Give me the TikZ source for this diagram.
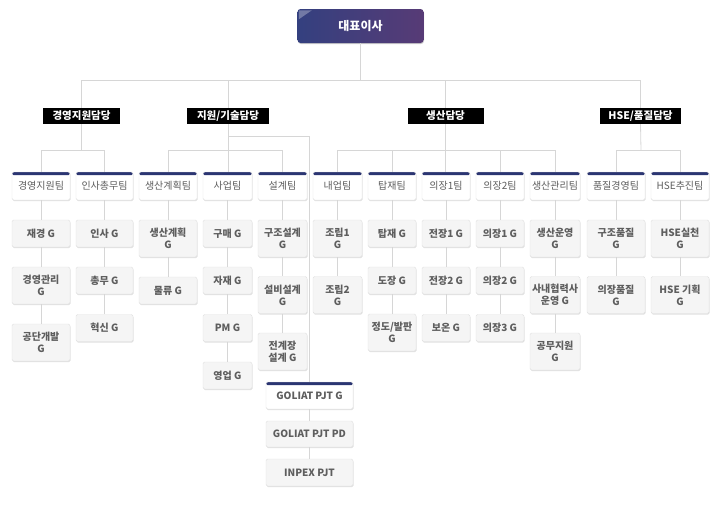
\documentclass[tikz,border=0pt]{standalone}
\usepackage{fontspec}
\setmainfont{Noto Sans CJK KR}
\usetikzlibrary{shadows}
\definecolor{navy}{HTML}{2B3572}
\definecolor{linegray}{HTML}{D6D6D6}
\definecolor{boxborder}{HTML}{E0E0E0}
\definecolor{subfill}{HTML}{F5F5F5}
\definecolor{textgray}{HTML}{5E5E5E}
\definecolor{ceoleft}{HTML}{34407F}
\definecolor{ceomid}{HTML}{6A8CC2}
\definecolor{ceoright}{HTML}{573B76}
\tikzset{
  conn/.style={draw=linegray, line width=0.8pt},
  softshadow/.style={drop shadow={shadow xshift=0.5pt, shadow yshift=-1pt, fill=black, opacity=0.12}},
  teambox/.style={draw=boxborder, fill=white, rounded corners=1.5pt, minimum height=28pt, inner sep=0pt,
    font=\fontsize{10}{12}\selectfont, text=textgray, softshadow,
    path picture={\fill[navy] (path picture bounding box.north west) rectangle ([yshift=-3pt]path picture bounding box.north east);}},
  subbox/.style={draw=boxborder, fill=subfill, rounded corners=1.5pt, inner sep=0pt, align=center,
    font=\bfseries\fontsize{10}{12}\selectfont, text=textgray, softshadow},
  subone/.style={subbox, minimum height=27pt},
  subtwo/.style={subbox, minimum height=37pt},
  grouplabel/.style={fill=black, text=white, font=\bfseries\fontsize{10.5}{12}\selectfont, minimum height=16pt, inner sep=0pt},
  ceobox/.style={rounded corners=3pt, left color=ceoleft, middle color=ceomid, right color=ceoright,
    text=white, font=\bfseries\fontsize{12}{14}\selectfont, minimum width=126pt, minimum height=34pt, inner sep=0pt,
    drop shadow={shadow xshift=0.5pt, shadow yshift=-1pt, fill=black, opacity=0.2}},
  wA/.style={minimum width=58pt},
  wB/.style={minimum width=57pt},
  wC/.style={minimum width=49pt},
  wD/.style={minimum width=48pt},
  wE/.style={minimum width=50pt},
  wF/.style={minimum width=87pt},
}
\begin{document}
\begin{tikzpicture}[x=1pt, y=-1pt]
\useasboundingbox (0,0) rectangle (718,507);
% CEO
\node[ceobox] (ceo) at (360.5,26) {대표이사};
\fill[white, opacity=0.3] ([xshift=1.5pt,yshift=-1.5pt]ceo.north west) -- ++(13pt,0) -- ++(-13pt,-9pt) -- cycle;
% group labels
\node[grouplabel, minimum width=77pt] (g1) at (81.5,116) {경영지원담당};
\node[grouplabel, minimum width=82pt] (g2) at (228,116) {지원/기술담당};
\node[grouplabel, minimum width=76pt] (g3) at (445.5,116) {생산담당};
\node[grouplabel, minimum width=81pt] (g4) at (640.5,116) {HSE/품질담당};
% teams
\node[teambox, wA] (t1) at (41,186) {경영지원팀};
\node[teambox, wB] (t2) at (104.5,186) {인사총무팀};
\node[teambox, wA] (t3) at (168,186) {생산계획팀};
\node[teambox, wC] (t4) at (227.5,186) {사업팀};
\node[teambox, wC] (t5) at (282.5,186) {설계팀};
\node[teambox, wC] (t6) at (337.5,186) {내업팀};
\node[teambox, wD] (t7) at (392,186) {탑재팀};
\node[teambox, wD] (t8) at (446,186) {의장1팀};
\node[teambox, wD] (t9) at (500,186) {의장2팀};
\node[teambox, wE] (t10) at (555,186) {생산관리팀};
\node[teambox, wA] (t11) at (616,186) {품질경영팀};
\node[teambox, wA] (t12) at (680,186) {HSE추진팀};
% column 1
\node[subone, wA] (s1a) at (41,233.5) {재경 G};
\node[subtwo, wA] (s1b) at (41,285.5) {경영관리\\G};
\node[subtwo, wA] (s1c) at (41,342.5) {공단개발\\G};
% column 2
\node[subone, wB] (s2a) at (104.5,233.5) {인사 G};
\node[subone, wB] (s2b) at (104.5,280.5) {총무 G};
\node[subone, wB] (s2c) at (104.5,328) {혁신 G};
% column 3
\node[subtwo, wA] (s3a) at (168,238.5) {생산계획\\G};
\node[subone, wA] (s3b) at (168,290.5) {물류 G};
% column 4
\node[subone, wC] (s4a) at (227.5,233.5) {구매 G};
\node[subone, wC] (s4b) at (227.5,280.5) {자재 G};
\node[subone, wC] (s4c) at (227.5,328) {PM G};
\node[subone, wC] (s4d) at (227.5,375.5) {영업 G};
% column 5
\node[subtwo, wC] (s5a) at (282.5,238.5) {구조설계\\G};
\node[subtwo, wC] (s5b) at (282.5,295) {설비설계\\G};
\node[subtwo, wC] (s5c) at (282.5,351.5) {전계장\\설계 G};
% column 6
\node[subtwo, wC] (s6a) at (337.5,238.5) {조립1\\G};
\node[subtwo, wC] (s6b) at (337.5,295) {조립2\\G};
% column 7
\node[subone, wD] (s7a) at (392,233.5) {탑재 G};
\node[subone, wD] (s7b) at (392,280.5) {도장 G};
\node[subtwo, wD] (s7c) at (392,332.5) {정도/발판\\G};
% column 8
\node[subone, wD] (s8a) at (446,233.5) {전장1 G};
\node[subone, wD] (s8b) at (446,280.5) {전장2 G};
\node[subone, wD] (s8c) at (446,328) {보온 G};
% column 9
\node[subone, wD] (s9a) at (500,233.5) {의장1 G};
\node[subone, wD] (s9b) at (500,280.5) {의장2 G};
\node[subone, wD] (s9c) at (500,328) {의장3 G};
% column 10
\node[subtwo, wE] (s10a) at (555,238.5) {생산운영\\G};
\node[subtwo, wE] (s10b) at (555,295) {사내협력사\\운영 G};
\node[subtwo, wE] (s10c) at (555,351.5) {공무지원\\G};
% column 11
\node[subtwo, wA] (s11a) at (616,238.5) {구조품질\\G};
\node[subtwo, wA] (s11b) at (616,295) {의장품질\\G};
% column 12
\node[subtwo, wA] (s12a) at (680,238.5) {HSE실천\\G};
\node[subtwo, wA] (s12b) at (680,295) {HSE 기획\\G};
% projects
\node[teambox, wF, minimum height=27pt, font=\bfseries\fontsize{10}{12}\selectfont] (p1) at (309.5,395.5) {GOLIAT PJT G};
\node[subone, wF, minimum height=26pt] (p2) at (309.5,434) {GOLIAT PJT PD};
\node[subone, wF] (p3) at (309.5,472.5) {INPEX PJT};
% bus coordinates
\coordinate (topbus) at (360.5,80);
\coordinate (b1) at (81.5,150);
\coordinate (b2) at (228,150);
\coordinate (b3) at (446,150);
\coordinate (b4) at (641,150);
\coordinate (br) at (228,136);
% top connectors
\draw[conn] (ceo.south) -- (topbus);
\draw[conn] (g1.north) -- (g1.north |- topbus) -- (g4.north |- topbus) -- (g4.north);
\draw[conn] (g2.north) -- (g2.north |- topbus);
\draw[conn] (g3.north) -- (g3.north |- topbus);
% group 1
\draw[conn] (g1.south) -- (b1);
\draw[conn] (t1.north) -- (t1.north |- b1) -- (t2.north |- b1) -- (t2.north);
% group 2
\draw[conn] (g2.south) -- (g2.south |- t4.north);
\draw[conn] (t3.north) -- (t3.north |- b2) -- (t5.north |- b2) -- (t5.north);
\draw[conn] (br) -- (br -| p1.north) -- (p1.north);
% group 3
\draw[conn] (g3.south) -- (g3.south |- t8.north);
\draw[conn] (t6.north) -- (t6.north |- b3) -- (t10.north |- b3) -- (t10.north);
\draw[conn] (t7.north) -- (t7.north |- b3);
\draw[conn] (t9.north) -- (t9.north |- b3);
% group 4
\draw[conn] (g4.south) -- (b4);
\draw[conn] (t11.north) -- (t11.north |- b4) -- (t12.north |- b4) -- (t12.north);
% columns
\draw[conn] (t1) -- (s1a) -- (s1b) -- (s1c);
\draw[conn] (t2) -- (s2a) -- (s2b) -- (s2c);
\draw[conn] (t3) -- (s3a) -- (s3b);
\draw[conn] (t4) -- (s4a) -- (s4b) -- (s4c) -- (s4d);
\draw[conn] (t5) -- (s5a) -- (s5b) -- (s5c);
\draw[conn] (t6) -- (s6a) -- (s6b);
\draw[conn] (t7) -- (s7a) -- (s7b) -- (s7c);
\draw[conn] (t8) -- (s8a) -- (s8b) -- (s8c);
\draw[conn] (t9) -- (s9a) -- (s9b) -- (s9c);
\draw[conn] (t10) -- (s10a) -- (s10b) -- (s10c);
\draw[conn] (t11) -- (s11a) -- (s11b);
\draw[conn] (t12) -- (s12a) -- (s12b);
\draw[conn] (p1) -- (p2) -- (p3);
\end{tikzpicture}
\end{document}
